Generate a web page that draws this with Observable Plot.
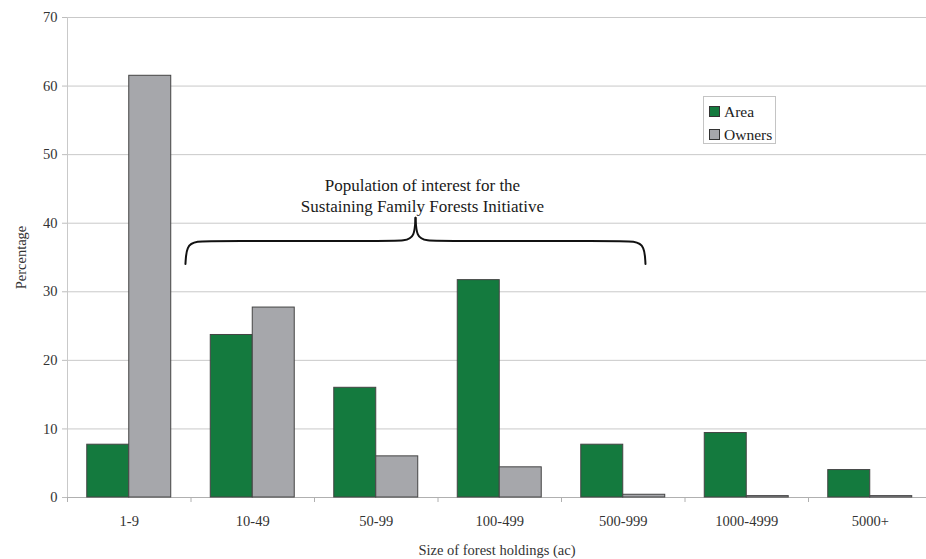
<!DOCTYPE html>
<html>
<head>
<meta charset="utf-8">
<script src="https://cdn.jsdelivr.net/npm/d3@7"></script>
<script src="https://cdn.jsdelivr.net/npm/@observablehq/plot@0.6"></script>
<style>
  html, body { margin: 0; padding: 0; background: #fff; }
  #wrap { position: relative; width: 926px; height: 559px; font-family: "Liberation Serif", "Times New Roman", serif; }
  #legend { position: absolute; left: 703px; top: 96px; width: 73px; height: 48px; border: 1px solid #c4c4c4; background: #fff; box-sizing: border-box; }
  .item { position: absolute; left: 5px; display: flex; align-items: center; font-size: 15.5px; color: #222; line-height: 1; }
  .sw { width: 9px; height: 9px; border: 1px solid #333; margin-right: 4px; }
</style>
</head>
<body>
<div id="wrap"><div id="legend"></div></div>
<script>
// ---- data ----
const categories = ["1-9", "10-49", "50-99", "100-499", "500-999", "1000-4999", "5000+"];
const areaPct   = [7.7, 23.7, 16.0, 31.7, 7.7, 9.4, 4.0];
const ownersPct = [61.5, 27.7, 6.0, 4.4, 0.4, 0.2, 0.2];
const series = ["Area", "Owners"];
const seriesColors = ["#147a3e", "#a6a7ab"];
const yTicks = [0, 10, 20, 30, 40, 50, 60, 70];
const xLabel = "Size of forest holdings (ac)";
const yLabel = "Percentage";
const annotationLines = ["Population of interest for the", "Sustaining Family Forests Initiative"];
const annotationAt = [2.874, 44.1];
// brace control points (x in category units, y in percent)
const braceLeftX  = [0.955, 0.964, 1.036, 1.215, 2.559, 2.737, 2.810, 2.818];
const braceRightX = [2.818, 2.826, 2.899, 3.077, 4.421, 4.599, 4.672, 4.680];
const braceLeftY  = [34.05, 36.7, 37.4, 37.4, 37.4, 37.4, 38.0, 40.8];
const braceRightY = [40.8, 38.0, 37.4, 37.4, 37.4, 37.4, 36.7, 34.05];

// ---- build tables ----
const rows = categories.flatMap((c, i) => [
  {i, cat: c, series: series[0], value: areaPct[i]},
  {i, cat: c, series: series[1], value: ownersPct[i]}
]);
const brace = [
  ...braceLeftX.map((x, k) => ({side: "L", x, y: braceLeftY[k]})),
  ...braceRightX.map((x, k) => ({side: "R", x, y: braceRightY[k]}))
];
const barStart = {Area: 0.16, Owners: 0.5};
const barEnd = {Area: 0.5, Owners: 0.84};

const plot = Plot.plot({
  width: 926,
  height: 559,
  marginLeft: 67,
  marginRight: 0,
  marginTop: 17,
  marginBottom: 62,
  style: {fontFamily: "'Liberation Serif', 'Times New Roman', serif", fontSize: "14.5px", color: "#333", background: "#fff"},
  x: {domain: [0, categories.length], range: [67, 931.5]},
  y: {domain: [0, 70]},
  color: {domain: series, range: seriesColors},
  marks: [
    Plot.gridY(yTicks.filter(v => v > 0), {stroke: "#c9c9c9", strokeOpacity: 1}),
    Plot.ruleX([0], {stroke: "#c9c9c9"}),
    Plot.ruleY([0], {stroke: "#b0b0b0"}),
    Plot.axisY(yTicks, {tickSize: 5, tickPadding: 5, stroke: "#bdbdbd", fill: "#333", fontSize: 14.5,
      label: yLabel, labelAnchor: "center", labelOffset: 52, labelArrow: "none"}),
    Plot.axisX(d3.range(categories.length + 1), {tickSize: 5, stroke: "#b0b0b0", tickFormat: () => "", label: null}),
    Plot.axisX(categories.map((_, i) => i + 0.5), {tickSize: 0, tickPadding: 18, fill: "#333", fontSize: 14.5,
      tickFormat: d => categories[Math.round(d - 0.5)],
      label: xLabel, labelAnchor: "center", labelOffset: 57, labelArrow: "none"}),
    Plot.rect(rows, {
      x1: d => d.i + barStart[d.series],
      x2: d => d.i + barEnd[d.series],
      y1: 0, y2: "value",
      fill: "series", stroke: "#444", strokeWidth: 1
    }),
    Plot.line(brace, {x: "x", y: "y", z: "side", curve: "basis", stroke: "#111", strokeWidth: 2}),
    Plot.text([annotationLines.join("\n")], {x: () => annotationAt[0], y: () => annotationAt[1],
      text: d => d, lineAnchor: "middle", lineHeight: 1.24, fontSize: 17, fill: "#1a1a1a"})
  ]
});
document.getElementById("wrap").prepend(plot);

// legend (HTML overlay inside plot area)
const legend = document.getElementById("legend");
series.forEach((s, k) => {
  const it = document.createElement("div");
  it.className = "item";
  it.style.top = (7 + k * 23) + "px";
  const sw = document.createElement("span");
  sw.className = "sw";
  sw.style.background = seriesColors[k];
  const t = document.createElement("span");
  t.textContent = s;
  it.append(sw, t);
  legend.append(it);
});
</script>
</body>
</html>
